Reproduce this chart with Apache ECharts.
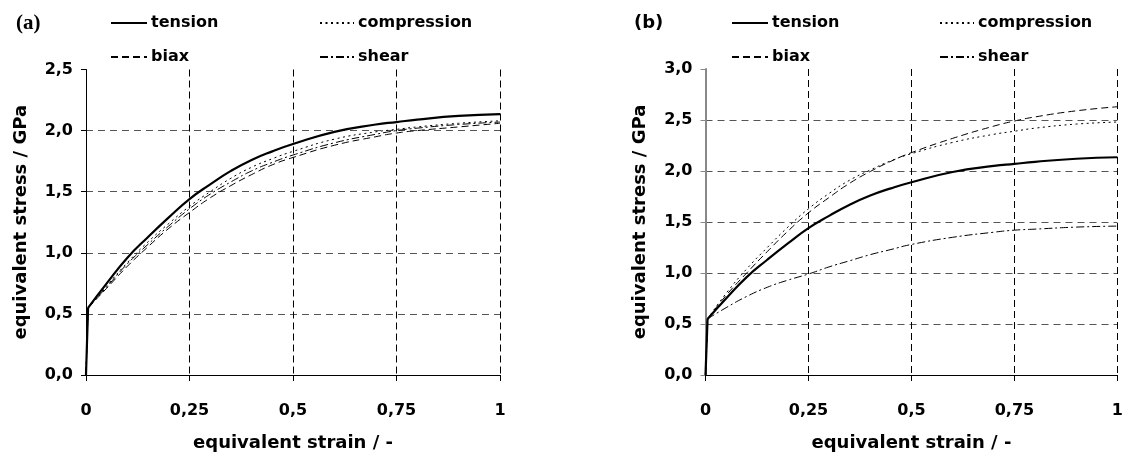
<!DOCTYPE html>
<html>
<head>
<meta charset="utf-8">
<script src="https://cdn.jsdelivr.net/npm/echarts@6/dist/echarts.min.js"></script>
<style>
  html, body { margin: 0; padding: 0; background: #fff; }
  #chart { width: 1126px; height: 457px; }
</style>
</head>
<body>
<div id="chart"></div>
<script>
// elastic part: straight rise from the origin to the yield point
const elasticStrain = [0, 0.005];
const elasticStress = [0, 0.55];

// plastic part: equivalent strain sampling points (shared by all curves)
const strain = [0.005, 0.05, 0.1, 0.15, 0.2, 0.25, 0.3, 0.35, 0.4, 0.45, 0.5, 0.6, 0.7, 0.75, 0.8, 0.9, 1.0];

// (a) equivalent stress in GPa
const tensionA     = [0.55, 0.75, 0.96, 1.13, 1.29, 1.44, 1.56, 1.67, 1.76, 1.83, 1.89, 1.99, 2.05, 2.07, 2.09, 2.12, 2.135];
const compressionA = [0.55, 0.73, 0.92, 1.09, 1.24, 1.38, 1.50, 1.61, 1.70, 1.77, 1.83, 1.93, 1.99, 2.01, 2.03, 2.06, 2.08];
const biaxA        = [0.55, 0.71, 0.89, 1.05, 1.20, 1.33, 1.45, 1.55, 1.64, 1.72, 1.78, 1.88, 1.95, 1.98, 2.00, 2.03, 2.06];
const shearA       = [0.55, 0.72, 0.91, 1.07, 1.22, 1.36, 1.48, 1.58, 1.67, 1.74, 1.80, 1.90, 1.97, 2.00, 2.02, 2.05, 2.07];

// (b) equivalent stress in GPa
const tensionB     = [0.55, 0.75, 0.96, 1.13, 1.29, 1.44, 1.56, 1.67, 1.76, 1.83, 1.89, 1.99, 2.05, 2.07, 2.09, 2.12, 2.135];
const compressionB = [0.55, 0.80, 1.04, 1.25, 1.45, 1.63, 1.78, 1.91, 2.01, 2.10, 2.17, 2.28, 2.36, 2.39, 2.42, 2.46, 2.48];
const biaxB        = [0.55, 0.78, 1.00, 1.21, 1.41, 1.59, 1.74, 1.88, 1.995, 2.095, 2.18, 2.32, 2.44, 2.49, 2.53, 2.59, 2.63];
const shearB       = [0.55, 0.66, 0.77, 0.86, 0.93, 0.99, 1.06, 1.12, 1.18, 1.23, 1.28, 1.35, 1.40, 1.42, 1.43, 1.45, 1.46];

// axis ticks
const strainTicks = [0, 0.25, 0.5, 0.75, 1];
const stressMaxA = 2.5;
const stressMaxB = 3.0;
const stressStep = 0.5;

const FONT = 'DejaVu Sans';
const pairs = (xs, ys) => xs.map((x, i) => [x, ys[i]]);
const comma = v => String(v).replace('.', ',');

const styles = {
  tension:     { color: '#000', width: 2.2, type: 'solid' },
  compression: { color: '#000', width: 1, type: [2, 3.5] },
  biax:        { color: '#000', width: 1, type: [7, 4] },
  shear:       { color: '#000', width: 1, type: [8, 3, 2, 3] }
};

function curveSeries(name, ys, idx) {
  const base = {
    type: 'line', name, xAxisIndex: idx, yAxisIndex: idx,
    symbol: 'none', showSymbol: false,
    itemStyle: { color: '#000' },
    lineStyle: styles[name], animation: false, z: name === 'tension' ? 5 : 3
  };
  return [
    Object.assign({}, base, { data: pairs(strain, ys), smooth: 0.5 }),
    Object.assign({}, base, { data: pairs(elasticStrain, elasticStress), smooth: false })
  ];
}

function xAxisFor(idx) {
  return {
    type: 'value', gridIndex: idx, min: 0, max: 1, interval: 0.25,
    name: 'equivalent strain / -', nameLocation: 'middle', nameGap: 59,
    nameTextStyle: { fontFamily: FONT, fontWeight: 'bold', fontSize: 18, color: '#000' },
    axisLine: { show: true, onZero: false, lineStyle: { color: '#000', width: 1 } },
    axisTick: { show: true, length: 6, lineStyle: { color: '#000' } },
    axisLabel: {
      fontFamily: FONT, fontWeight: 'bold', fontSize: 16, color: '#000', margin: 28,
      formatter: v => strainTicks.includes(v) ? (v === 0 ? '0' : comma(v)) : ''
    },
    splitLine: { show: true, showMinLine: false, showMaxLine: true,
      lineStyle: { color: '#000', width: 1, type: [7, 4] } }
  };
}

function yAxisFor(idx, max, axisColor, axisWidth) {
  return {
    type: 'value', gridIndex: idx, min: 0, max: max, interval: stressStep,
    name: 'equivalent stress / GPa', nameLocation: 'middle', nameGap: 56,
    nameTextStyle: { fontFamily: FONT, fontWeight: 'bold', fontSize: 18, color: '#000' },
    axisLine: { show: true, onZero: false, lineStyle: { color: axisColor, width: axisWidth } },
    axisTick: { show: true, length: 5, lineStyle: { color: axisColor } },
    axisLabel: {
      fontFamily: FONT, fontWeight: 'bold', fontSize: 16, color: '#000', margin: 13,
      formatter: v => v.toFixed(1).replace('.', ',')
    },
    splitLine: { show: true, showMinLine: false, showMaxLine: false,
      lineStyle: { color: '#555', width: 1.2, type: [7, 5] } }
  };
}

function legendItem(name, left, top, width) {
  return {
    data: [name], left, top, padding: 0, itemWidth: width, itemHeight: 16,
    itemGap: 0, selectedMode: false,
    itemStyle: { opacity: 0 },
    textStyle: { fontFamily: FONT, fontWeight: 'bold', fontSize: 16, color: '#000', padding: [0, 0, 0, -1] }
  };
}

const option = {
  backgroundColor: '#fff',
  animation: false,
  title: [
    { text: '(a)', left: 16, top: 13, padding: 0,
      textStyle: { fontFamily: 'Liberation Serif', fontWeight: 'bold', fontSize: 21, color: '#000' } },
    { text: '(b)', left: 634, top: 14, padding: 0,
      textStyle: { fontFamily: FONT, fontWeight: 'bold', fontSize: 18, color: '#000' } }
  ],
  legend: [
    legendItem('tension', 110, 15, 36),
    legendItem('compression', 319, 15, 34),
    legendItem('biax', 110, 49, 36),
    legendItem('shear', 319, 49, 34),
    legendItem('tension', 731, 15, 36),
    legendItem('compression', 939, 15, 34),
    legendItem('biax', 731, 49, 36),
    legendItem('shear', 939, 49, 34)
  ],
  grid: [
    { left: 86, top: 69.5, width: 414, height: 310.8 },
    { left: 705.5, top: 69, width: 415.5, height: 311.3 }
  ],
  xAxis: [xAxisFor(0), xAxisFor(1)],
  yAxis: [yAxisFor(0, stressMaxA, '#000', 1), yAxisFor(1, stressMaxB, '#888', 2)],
  series: [].concat(
    curveSeries('tension', tensionA, 0),
    curveSeries('compression', compressionA, 0),
    curveSeries('biax', biaxA, 0),
    curveSeries('shear', shearA, 0),
    curveSeries('tension', tensionB, 1),
    curveSeries('compression', compressionB, 1),
    curveSeries('biax', biaxB, 1),
    curveSeries('shear', shearB, 1)
  )
};

const chart = echarts.init(document.getElementById('chart'), null, { renderer: 'canvas' });
chart.setOption(option);
</script>
</body>
</html>
